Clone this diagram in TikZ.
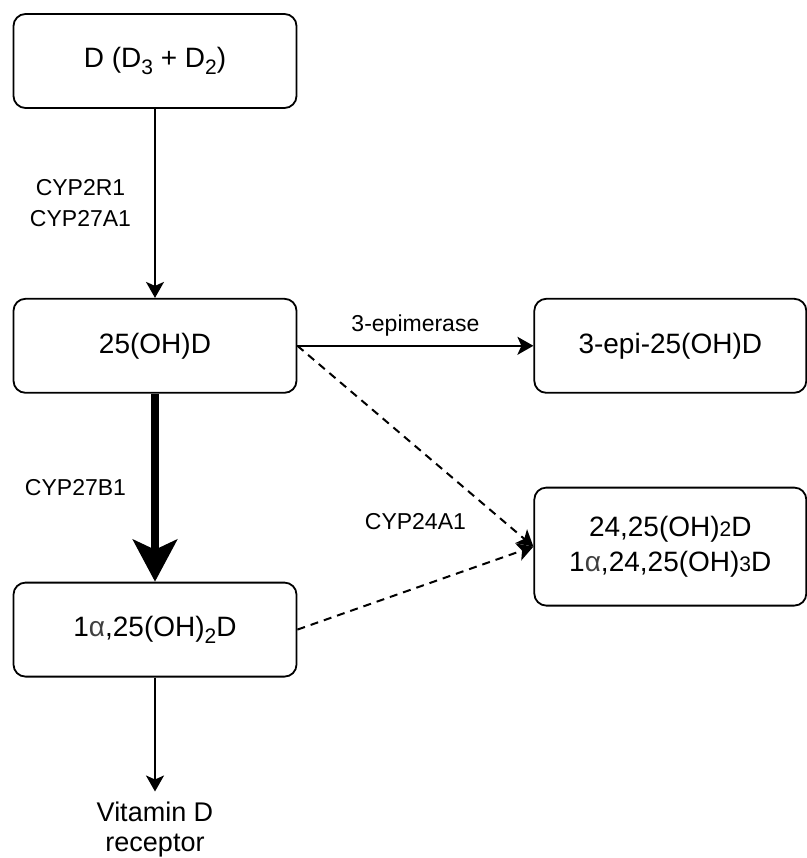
\documentclass[tikz,border=0pt]{standalone}
\usepackage{fontspec}
\setmainfont{Liberation Sans}
\usetikzlibrary{positioning, arrows.meta}

\newcommand{\lowsub}[1]{\raisebox{-7pt}{\fontsize{21}{21}\selectfont #1}}
\newcommand{\smalldig}[1]{{\fontsize{21}{21}\selectfont #1}}
\newcommand{\alf}{{\color{black!75}α}}

\begin{document}
\begin{tikzpicture}[
            x=1pt, y=1pt,
            box/.style={draw, line width=1.8pt, rounded corners=12pt, minimum width=283pt, minimum height=94pt, align=center, font=\fontsize{28}{35}\selectfont},
            lbl/.style={inner sep=0pt, align=center, font=\fontsize{23}{31}\selectfont},
            arr/.style={line width=2pt, -{Stealth[length=16pt, width=18pt, inset=4pt]}},
            fatarr/.style={line width=8pt, -{Stealth[length=42pt, width=44pt, inset=10pt]}},
            dasharr/.style={arr, dash pattern=on 8pt off 6pt},
        ]
            \useasboundingbox (0,0) rectangle (806,-858);

            % main chain on the left
            \node[box] (d) at (155,-61) {D (D\lowsub{3} + D\lowsub{2})};
            \node[box, below=189pt of d] (ohd) {25(OH)D};
            \node[box, below=188pt of ohd] (ald) {1\alf,25(OH)\lowsub{2}D};
            \node[lbl, inner sep=10pt, font=\fontsize{27}{30}\selectfont, below=114pt of ald] (vdr) {Vitamin D\\receptor};

            % side products
            \node[box, minimum width=272pt, right=236pt of ohd] (epi) {3-epi-25(OH)D};
            \node[box, minimum width=272pt, minimum height=118pt, below=93pt of epi] (hyd)
                {24,25(OH)\smalldig{2}D\\1\alf,24,25(OH)\smalldig{3}D};

            \draw[arr] (d) -- node[lbl, left=23pt] {CYP2R1\\CYP27A1} (ohd);
            \draw[fatarr] (ohd) -- node[lbl, left=25pt] {CYP27B1} (ald);
            \draw[arr] (ohd.east) -- node[lbl, above=9pt] {3-epimerase} (epi);
            \draw[dasharr] (ohd.east) -- (hyd.west);
            \draw[dasharr] (ald.east) -- node[lbl, above=57pt] {CYP24A1} (hyd.west);
            \draw[arr] (ald) -- (vdr);
        \end{tikzpicture}
\end{document}
